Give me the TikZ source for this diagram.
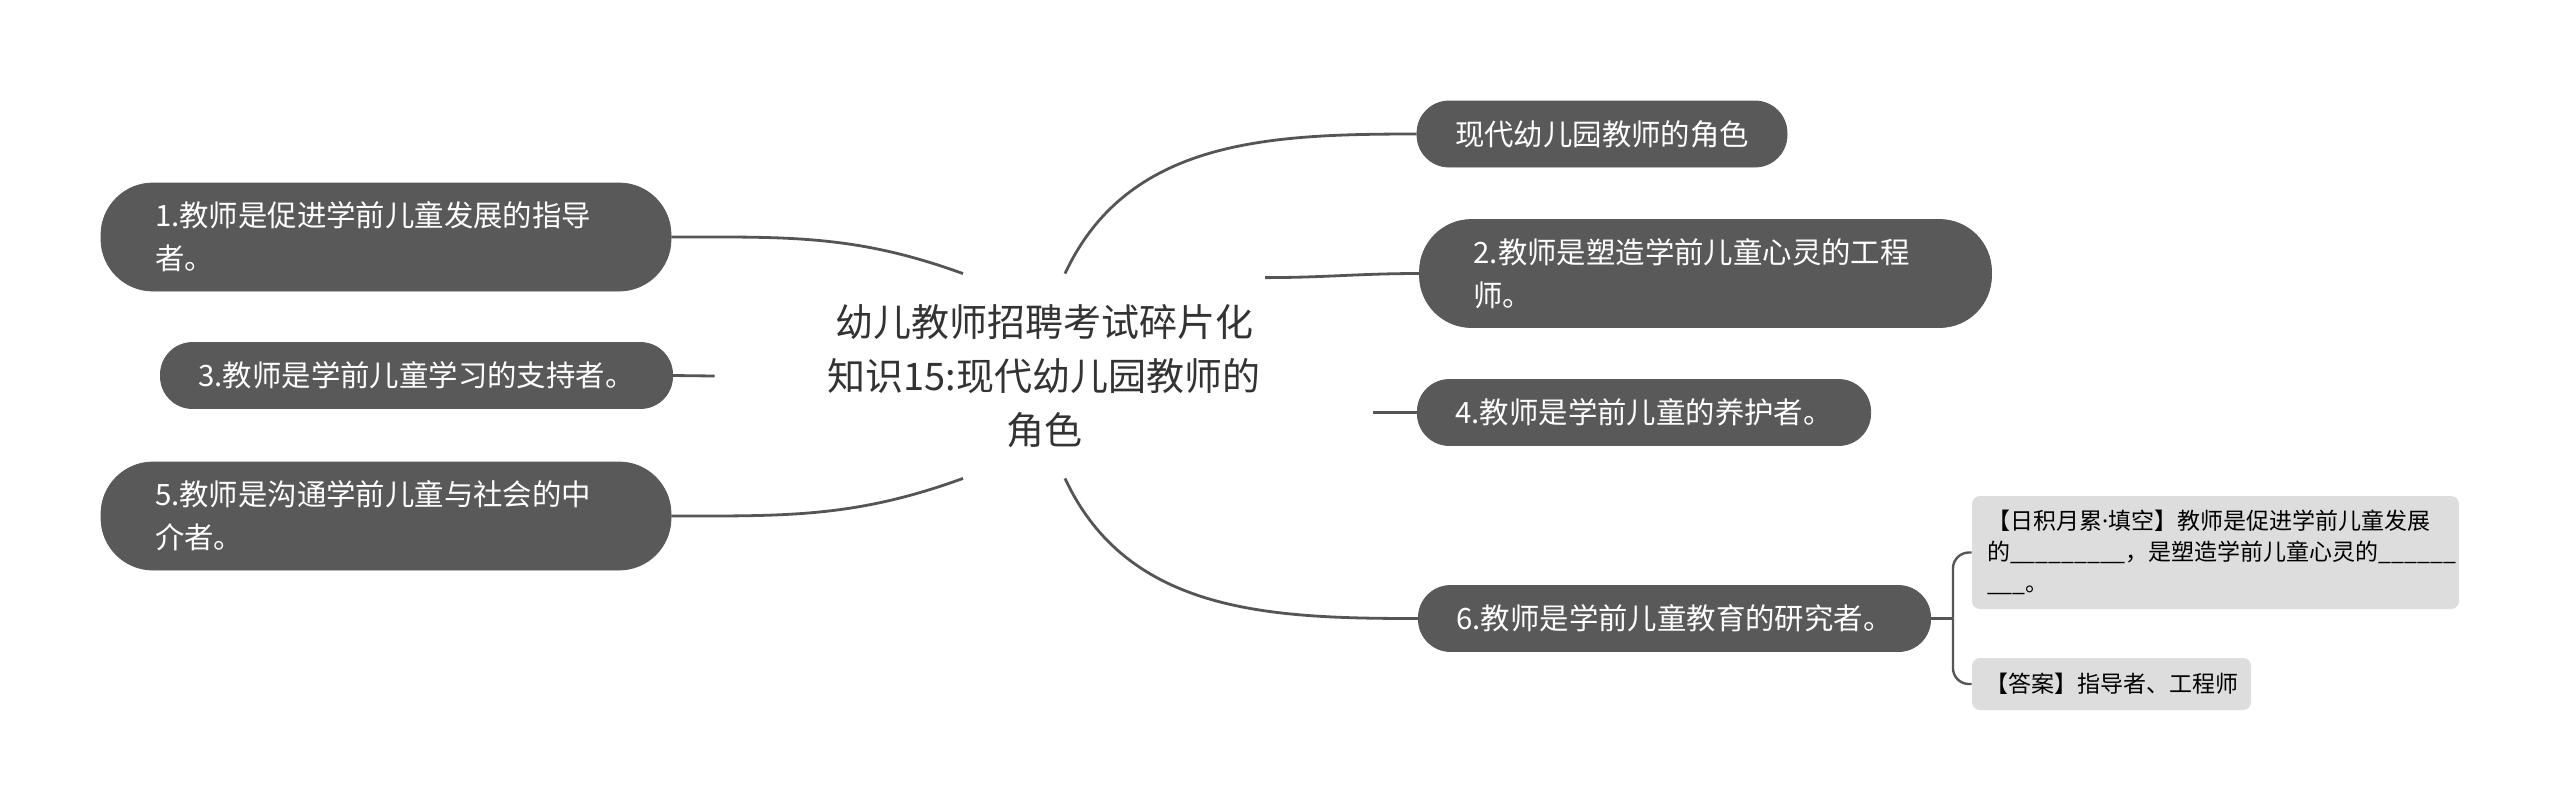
\documentclass[tikz,border=0pt]{standalone}
\usepackage{fontspec}
\usepackage{xcolor}
\usepackage{tikz}
\usetikzlibrary{calc}
\newfontfamily\cjk{Noto Sans CJK SC}
\newfontfamily\latinfont{Noto Sans}
\definecolor{nodegray}{HTML}{595959}
\definecolor{linegray}{HTML}{555555}
\definecolor{notegray}{HTML}{DDDDDD}
\definecolor{roottext}{HTML}{333333}

\begin{document}
\begin{tikzpicture}[x=0.5pt,y=0.5pt,
 r/.style={fill=nodegray,draw=nodegray,text=white,rounded corners=16pt,inner xsep=19pt,minimum height=33pt,font=\cjk\fontsize{14.7}{21.5}\selectfont},
 rr/.style={r,rounded corners=26pt,minimum height=54pt,text width=231pt,inner xsep=27pt,align=left},
 n/.style={fill=notegray,rounded corners=4pt,text=black,font=\cjk\fontsize{11.5}{15.5}\selectfont,align=left},
 c/.style={draw=linegray,line width=1.4pt}]
 \path[fill=white] (0,0) rectangle (2560,-811);
 \useasboundingbox (0,0) rectangle (2560,-811);
 \node[font=\cjk\fontsize{19}{27}\selectfont,text=roottext,align=center,minimum width=329pt,minimum height=102pt] (root) at (1044,-376) {幼儿教师招聘考试碎片化\\知识15:现代幼儿园教师的\\角色};
 % right side
 \node[r] (r0) at (1602,-134) {现代幼儿园教师的角色};
 \node[rr,text width=232pt] (r2) at (1705.5,-273.5) {2.教师是塑造学前儿童心灵的工程\\师。};
 \node[r] (r4) at (1644,-412.5) {4.教师是学前儿童的养护者。};
 \node[r] (r6) at (1674.5,-618.5) {6.教师是学前儿童教育的研究者。};
 % left side
 \node[rr] (l1) at (386,-237) {1.教师是促进学前儿童发展的指导\\者。};
 \node[r] (l3) at (416.5,-375.5) {3.教师是学前儿童学习的支持者。};
 \node[rr] (l5) at (386,-516) {5.教师是沟通学前儿童与社会的中\\介者。};
 % notes
 \node[n,text width=228.5pt,inner xsep=7.5pt,minimum height=56.5pt] (q) at (2215.5,-552.5) {【日积月累{\latinfont ·}填空】教师是促进学前儿童发展\\的\_\_\_\_\_\_\_\_\_，是塑造学前儿童心灵的\_\_\_\_\_\_\\\_\_\_。};
 \node[n,inner xsep=6.5pt,minimum height=26pt] (ans) at (2111.5,-684) {【答案】指导者、工程师};
 \draw[c] ($(root.north)+(21,0)$) to[out=65,in=180] (r0.west);
 \draw[c] ($(root.north)+(221,-4)$) to[out=0,in=180] (r2.west);
 \draw[c] (root.east |- r4.west) -- (r4.west);
 \draw[c] ($(root.south)+(21,0)$) to[out=-65,in=180] (r6.west);
 \draw[c] ($(root.north)+(-81,0)$) to[out=160,in=0] (l1.east);
 \draw[c] (root.west) -- (l3.east);
 \draw[c] ($(root.south)+(-81,0)$) to[out=-160,in=0] (l5.east);
 \coordinate (fork) at ($(r6.east)+(22,0)$);
 \draw[c,line width=1.2pt] (r6.east) -- (fork);
 \draw[c,line width=1.2pt,rounded corners=8pt] (fork) |- (q.west);
 \draw[c,line width=1.2pt,rounded corners=8pt] (fork) |- (ans.west);
\end{tikzpicture}
\end{document}
